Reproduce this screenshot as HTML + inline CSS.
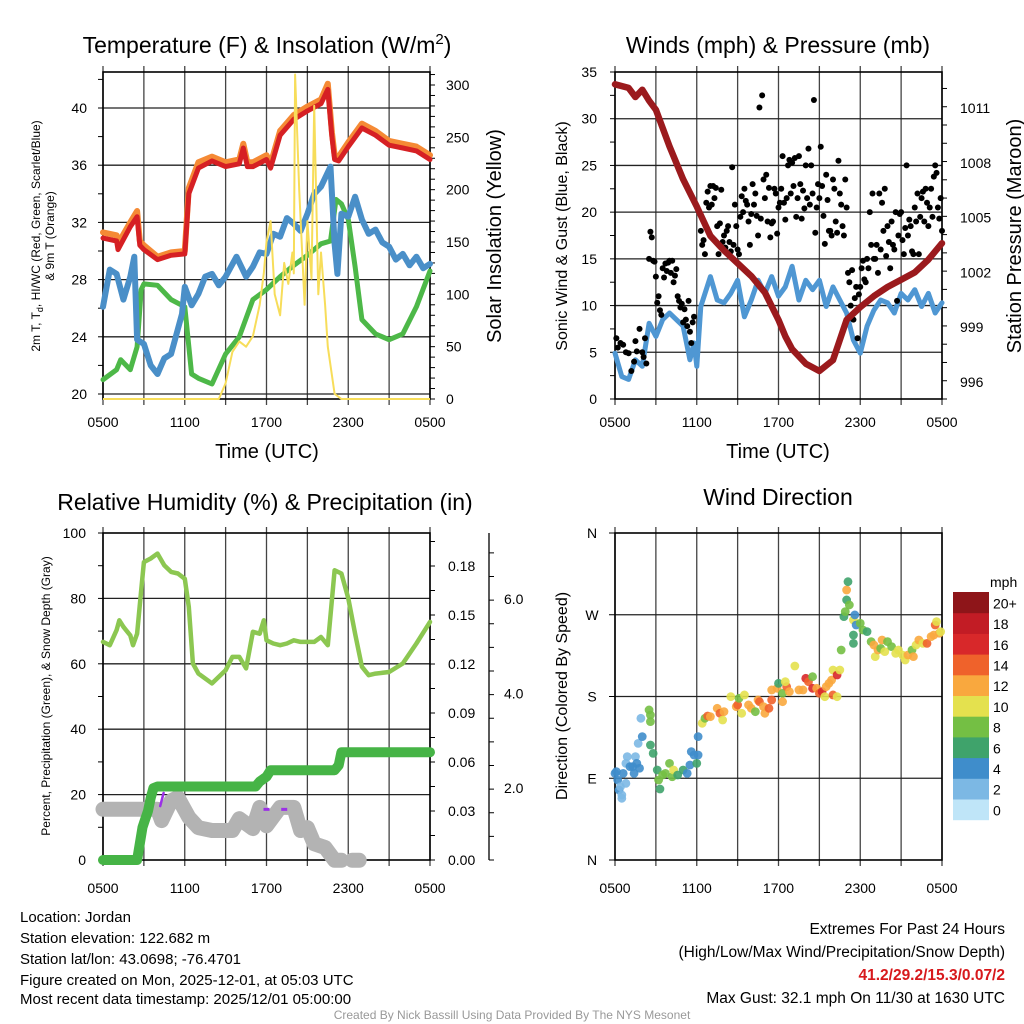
<!DOCTYPE html>
<html><head><meta charset="utf-8">
<style>
html,body{margin:0;padding:0;background:#fff;}
svg{display:block;font-family:"Liberation Sans",Arial,sans-serif;}
</style></head>
<body>
<svg id="chart" width="1024" height="1024" viewBox="0 0 1024 1024" xmlns="http://www.w3.org/2000/svg">
<rect width="1024" height="1024" fill="#fff"/>
<g id="p1"></g>
<g id="p2"></g>
<g id="p3"></g>
<g id="p4"></g>

<text x="267" y="53" font-size="23" text-anchor="middle">Temperature (F) &amp; Insolation (W/m<tspan dy="-9" font-size="15">2</tspan><tspan dy="9">)</tspan></text>
<text x="778" y="53" font-size="23" text-anchor="middle">Winds (mph) &amp; Pressure (mb)</text>
<text x="265" y="510" font-size="23" text-anchor="middle">Relative Humidity (%) &amp; Precipitation (in)</text>
<text x="778" y="505" font-size="23" text-anchor="middle">Wind Direction</text>

<text transform="translate(40,236) rotate(-90)" font-size="12" text-anchor="middle">2m T, T<tspan dy="3" font-size="9">d</tspan><tspan dy="-3">, HI/WC (Red, Green, Scarlet/Blue)</tspan></text>
<text transform="translate(54,236) rotate(-90)" font-size="12" text-anchor="middle">&amp; 9m T (Orange)</text>
<text transform="translate(501,236) rotate(-90)" font-size="20" text-anchor="middle">Solar Insolation (Yellow)</text>
<text x="267" y="458" font-size="20" text-anchor="middle">Time (UTC)</text>

<text transform="translate(567,236) rotate(-90)" font-size="16" text-anchor="middle">Sonic Wind &amp; Gust (Blue, Black)</text>
<text transform="translate(1021,236) rotate(-90)" font-size="20" text-anchor="middle">Station Pressure (Maroon)</text>
<text x="778" y="458" font-size="20" text-anchor="middle">Time (UTC)</text>

<text transform="translate(50,696) rotate(-90)" font-size="12" text-anchor="middle">Percent, Precipitation (Green), &amp; Snow Depth (Gray)</text>
<text transform="translate(567,696) rotate(-90)" font-size="16" text-anchor="middle">Direction (Colored By Speed)</text>

<g font-size="15">
<text x="20" y="922">Location: Jordan</text>
<text x="20" y="943">Station elevation: 122.682 m</text>
<text x="20" y="964">Station lat/lon: 43.0698; -76.4701</text>
<text x="20" y="985">Figure created on Mon, 2025-12-01, at 05:03 UTC</text>
<text x="20" y="1004">Most recent data timestamp: 2025/12/01 05:00:00</text>
<text x="1005" y="934" text-anchor="end" font-size="15.5">Extremes For Past 24 Hours</text>
<text x="1005" y="957" text-anchor="end" font-size="15.5">(High/Low/Max Wind/Precipitation/Snow Depth)</text>
<text x="1005" y="980" text-anchor="end" font-size="15.5" fill="#d7191c" font-weight="bold">41.2/29.2/15.3/0.07/2</text>
<text x="1005" y="1003" text-anchor="end" font-size="15.5">Max Gust: 32.1 mph On 11/30 at 1630 UTC</text>
<text x="512" y="1019" text-anchor="middle" font-size="12" fill="#999">Created By Nick Bassill Using Data Provided By The NYS Mesonet</text>
</g>
</svg>
<script>
// ---------- Panel 1 data ----------
const p1XLabels = ["0500","1100","1700","2300","0500"];
const tempTicks = [20,24,28,32,36,40];
const solarTicks = [0,50,100,150,200,250,300];
const redT = [0,1,1.1,2,2.5,2.7,3,4,5,6,6.3,7,8,9,10,10.3,10.6,11,12,12.3,13,14,15,16,16.5,16.8,17,17.3,18,19,20,21,22,23,24];
const redV = [30.9,30.7,30.1,31.7,32.4,30.4,30.1,29.4,29.7,29.8,34.0,35.8,36.3,35.9,36.1,37.2,35.9,35.9,36.4,35.8,38.1,39.2,39.8,40.3,41.3,38.0,36.4,36.3,37.3,38.6,38.1,37.4,37.2,37.0,36.4];
const orangeV = [31.3,31.1,30.5,32.0,32.8,30.7,30.4,29.6,29.9,30.0,34.4,36.2,36.6,36.2,36.4,37.5,36.2,36.2,36.7,36.1,38.4,39.5,40.1,40.6,41.7,38.3,36.7,36.6,37.6,38.9,38.4,37.7,37.5,37.3,36.7];
const blueT = [0,0.5,1,1.5,2,2.3,2.5,3,3.5,4,4.5,5,5.8,6,6.5,7,7.5,8,8.5,9,9.8,10.5,11,11.5,12,12.5,13,13.5,14,14.5,15,15.5,16,16.7,17,17.2,17.5,18,18.5,19,19.5,20,20.5,21,21.5,22,22.5,23,23.5,24];
const blueV = [26.1,28.7,28.4,26.6,28.2,29.6,23.8,23.5,22.0,21.4,22.5,22.8,25.6,27.5,26.2,27.0,28.2,28.4,27.6,28.2,29.6,28.2,28.9,29.9,29.8,31.2,31.0,32.3,31.9,31.4,32.6,34.0,34.5,35.9,30.5,28.4,32.6,32.4,33.8,32.2,31.2,31.5,30.6,30.3,29.4,29.8,29.0,29.6,28.8,29.1];
const greenT = [0,1,1.3,2,2.5,2.8,3,4,5,6,6.5,7,8,9,10,11,12,13,14,15,16,16.7,17.1,17.5,18,18.5,19,20,21,22,23,24];
const greenV = [21.0,21.7,22.4,21.7,23.3,27.3,27.7,27.6,26.6,26.1,21.4,21.1,20.7,22.8,24.0,26.6,27.3,28.2,29.0,29.7,30.5,30.7,33.6,33.3,32.2,28.9,25.2,24.2,23.8,24.2,26.1,28.6];
const solarT = [0,8.5,9,9.5,10,10.5,11,11.5,11.8,12,12.3,12.6,13,13.3,13.6,13.9,14,14.1,14.4,14.8,15,15.3,15.5,15.8,16,16.3,16.5,17,17.5,24];
const solarV = [0,0,15,45,55,50,60,90,120,150,170,100,80,130,110,140,120,310,200,90,170,115,280,100,140,90,50,5,0,0];

// ---------- Panel 2 data ----------
const windTicks = [0,5,10,15,20,25,30,35];
const presTicks = [996,999,1002,1005,1008,1011];
const presT = [0,1,1.5,2,2.5,3,4,5,6,7,8,9,10,11,12,12.5,13,14,15,16,16.5,17,18,19,20,21,22,23,24];
const presV = [1012.3,1012.1,1011.6,1012.0,1011.4,1010.9,1008.9,1007.1,1005.6,1004.0,1003.2,1002.5,1001.8,1000.9,999.4,998.5,997.8,997.0,996.6,997.2,998.3,999.4,1000.1,1000.7,1001.2,1001.6,1002.0,1002.7,1003.6];
const sonicT = [0,0.5,1,1.5,2,2.5,3,3.5,4,4.5,5,5.5,5.8,6,6.3,7,7.5,8,8.5,9,9.5,10,10.5,11,11.5,12,12.5,13,13.5,14,14.5,15,15.5,16,16.5,17,17.5,18,18.5,19,19.5,20,20.5,21,21.5,22,22.5,23,23.5,24];
const sonicV = [4.9,2.4,2.1,4.2,3.5,8.1,6.7,8.5,9.2,8.5,7.8,4.2,6.0,3.5,9.9,13.1,10.6,10.3,11.3,12.7,8.8,10.6,12.7,11.3,13.1,11.0,12.0,14.2,10.6,12.7,11.7,12.7,9.9,12.0,10.6,9.2,6.3,4.9,7.8,9.5,10.6,10.3,9.2,11.3,10.6,11.7,9.9,11.3,9.2,10.3];
const gustT = [0.1,0.2,0.4,0.6,0.8,1,1.2,1.4,1.5,1.6,1.8,2,2.1,2.2,2.3,2.5,2.6,2.7,2.8,2.9,3,3.1,3.2,3.3,3.4,3.5,3.6,3.7,3.8,3.9,4,4.1,4.2,4.3,4.4,4.5,4.6,4.7,4.8,4.9,5,5.1,5.2,5.3,5.4,5.5,5.6,5.7,5.8,6.3,6.4,6.5,6.6,6.7,6.8,6.9,7,7.1,7.2,7.3,7.4,7.5,7.6,7.7,7.8,7.9,8,8.1,8.2,8.3,8.4,8.5,8.6,8.7,8.8,8.9,9,9.1,9.2,9.3,9.4,9.5,9.6,9.7,9.8,9.9,10,10.1,10.2,10.3,10.4,10.5,10.6,10.7,10.8,10.9,11,11.1,11.2,11.3,11.4,11.5,11.6,11.7,11.8,11.9,12,12.1,12.2,12.3,12.4,12.5,12.6,12.7,12.8,12.9,13,13.1,13.2,13.3,13.4,13.5,13.6,13.7,13.8,13.9,14,14.1,14.2,14.3,14.4,14.5,14.6,14.7,14.8,14.9,15,15.1,15.2,15.3,15.4,15.5,15.6,15.7,15.8,15.9,16,16.1,16.2,16.3,16.4,16.5,16.6,16.7,16.8,16.9,17,17.1,17.2,17.3,17.4,17.5,17.6,17.7,17.8,17.9,18,18.1,18.2,18.3,18.4,18.5,18.6,18.7,18.8,18.9,19,19.1,19.2,19.3,19.4,19.5,19.6,19.7,19.8,19.9,20,20.1,20.2,20.3,20.4,20.5,20.6,20.7,20.8,20.9,21,21.1,21.2,21.3,21.4,21.5,21.6,21.7,21.8,21.9,22,22.1,22.2,22.3,22.4,22.5,22.6,22.7,22.8,22.9,23,23.1,23.2,23.3,23.4,23.5,23.6,23.7,23.8,23.9,24];
const gustV = [6.5,5.5,6,5.8,5,4.9,3,4,6.2,5.1,7.5,5,4.5,6.5,3.8,15,17.9,17.3,14.8,14.7,13.1,10.3,11,9.5,9,14,13,14.5,13.7,14.6,14.8,13.5,14.8,12.5,13.2,13.9,11,10.5,9.8,10.2,8.2,9.6,8.5,7.8,10.5,7.2,6,8.2,8.8,18,16.5,17,15.5,21,22.2,20.5,22.8,20.8,22.8,21.5,22.6,18.5,15.5,18.8,22.4,16.8,17.5,16.2,18,18.5,16.8,15.8,24.8,16.5,20.8,18.5,16,15.5,19.5,21.7,20,22.5,21.2,20.8,19,16.5,19.8,23,20.8,22,19.6,17.5,31.2,19.3,32.5,23.5,21.5,24,19,22.6,17.3,18.8,19,22.5,22,17.7,20.5,21,22.5,26,21,19.2,21.5,25,25.6,22,25.3,22.8,25.8,19.5,21.5,26,23,19.3,22.3,20.4,25,21.5,26.8,20.8,25,22,32,17.8,20.5,23,21.5,27,22.8,19.6,16.6,24,21.3,18,18,17.5,23.5,22.5,19,17.8,25.5,22,20.8,18.5,17.5,23.5,20.5,13.5,12.5,10,13.8,8.5,10.8,12,6.5,11.2,12,14,14.8,12.8,12.5,15,14,20,16.5,22,15,15,16.5,13.5,22,16,21,18,22.5,15.3,18.5,16.8,14,19,16.5,16,20,10.5,17.5,19.8,20,17,15.5,18.3,25,17.5,19.2,18.5,15.8,15.5,20.5,19,22,15.5,19.5,21.5,22.2,19,22.5,21,18.5,20.5,22.5,19.5,23.8,25,24.2,20.5,19.3,21.5,18];

// ---------- Panel 3 data ----------
const pctTicks = [0,20,40,60,80,100];
const precipTicks = [0,0.03,0.06,0.09,0.12,0.15,0.18];
const snowTicks = [2,4,6];
const rhT = [0,0.5,1,1.2,1.5,2,2.2,2.5,2.8,3,3.5,4,4.5,5,5.5,6,6.3,6.6,7,8,9,9.5,10,10.5,11,11.5,11.8,12,12.5,13,13.5,14,14.5,15,15.5,16,16.5,17,17.5,18,18.5,19,19.5,20,21,22,23,24];
const rhV = [66.7,65.7,70.3,73.3,71.3,68.7,65.7,69.2,82.5,91.1,92.2,93.7,90.1,88.1,87.6,86.0,77.4,60.1,57.0,54.0,58.0,62.1,62.1,58.6,69.8,69.2,73.3,67.2,66.2,65.7,66.2,67.2,66.7,66.7,66.7,68.2,65.7,88.6,87.6,80.0,69.2,59.1,56.5,57.0,57.5,60.1,66.2,72.8];
const precipT = [0,2.5,2.7,2.9,3.1,3.3,3.5,3.7,4,11.2,11.5,12,12.3,17,17.3,17.5,24];
const precipV = [0,0,0.01,0.02,0.025,0.03,0.038,0.044,0.045,0.045,0.048,0.051,0.055,0.055,0.058,0.066,0.066];
const snowT = [0,4,4.3,5,5.5,6.3,7,8,9.5,10,11,11.5,12,13,14,14.5,15,15.5,16.3,17,17.5,null,18.3,18.8];
const snowV = [1.55,1.55,1.31,1.73,1.8,1.38,1.16,1.1,1.1,1.35,1.14,1.59,1.2,1.59,1.59,1.1,1.16,0.82,0.74,0.47,0.47,null,0.47,0.47];
const purpleT = [4.2,4.45];
const purpleV = [0.033,0.041];
const purpleDashT = [12.0,13.3];
const purpleDashV = [0.031,0.031];

// ---------- Panel 4 data ----------
const dirLabels = ["N","E","S","W","N"];
const dirTicks = [0,90,180,270,360];
const cbarLabels = ["0","2","4","6","8","10","12","14","16","18","20+"];
const cbarColors = ["#bfe5f8","#7cb8e4","#3f8dcb","#3fa36b","#74bf44","#e4e14e","#f9a83e","#ef622b","#d8282a","#c21c25","#8e1519"];
const wdT = [0,0.1,0.2,0.3,0.4,0.5,0.5,0.8,0.6,0.8,0.9,1.1,1.3,1.4,1.5,1.6,1.8,1.7,2.0,1.9,2.5,2.6,2.6,2.6,2.8,3.1,3.2,3.3,3.5,3.7,4.0,4.2,4.3,4.6,5.0,5.3,5.5,5.6,5.8,6.0,6.1,6.1,6.4,6.6,6.8,7.0,7.5,7.7,7.9,8.0,8.5,8.9,9.0,9.1,9.3,9.5,9.8,10.0,10.3,10.5,10.6,10.9,11.0,11.3,11.5,11.5,11.9,12.0,12.3,12.3,12.6,12.5,12.8,13.2,13.5,13.8,14.0,14.2,14.5,14.5,14.8,15.0,15.2,15.4,15.5,15.7,15.9,16.0,16.3,16.0,16.3,16.5,16.6,16.8,16.9,17.0,17.2,17.0,17.1,17.5,17.6,17.7,17.5,17.5,18.0,18.2,18.5,18.8,19.0,19.1,19.3,19.5,19.6,19.8,20.0,20.3,20.6,20.8,21.1,21.3,21.5,21.8,21.9,22.1,22.3,22.6,22.9,23.2,23.4,23.5,23.6,23.8,23.9];
const wdDir = [95.4,97.3,88.1,77.1,80.7,71.6,67.9,84.4,95.4,106.4,113.8,102.8,102.8,95.4,113.8,106.4,101,128.4,135.8,156,165.2,159.6,152.3,126.6,117.4,99.1,88.1,78.2,93.6,95.4,106.4,91.7,99.1,93.6,99.1,95.4,104.6,119.3,115.6,106.4,115.6,135.8,150.5,156,158.5,157.8,167,161.5,154.1,163.3,179.8,168.8,170.7,178,161.5,181.7,170.7,167,163.3,176.2,174.3,168.8,161.5,167,176.2,187.2,189,194.5,183.5,174.3,190.8,196.3,185.3,213.6,187.2,187.2,200,196.3,201.8,189,189,183.5,185.3,179.8,190.8,194.5,198.2,181.7,179.8,209.2,203.7,209.2,231.2,267.9,273.4,286.3,280.8,297.3,306.4,264.2,269.8,258.7,238.5,247.7,260.6,253.2,251.4,240.4,236.7,223.9,231.2,233,242.2,229.4,240.4,234.9,227.5,231.2,225.7,220.2,225.7,231.2,223.9,236.7,242.2,238.5,238.5,245.9,247.7,258.7,262.4,249.6,251.4];
const wdSpd = [4,4,4,4,1,2,2,2,4,2,2,4,4,4,2,4,3,2,4,2,7,8,8,6,6,6,7,6,7,8,8,8,10,6,6,4,4,4,4,5,3,4,10,8,14,12,12,13,10,12,10,11,13,8,10,10,12,12,8,11,14,12,12,14,14,12,11,6,8,12,14,10,12,10,12,12,15,14,8,15,12,14,16,10,12,12,12,14,10,10,15,10,7,6,8,6,8,12,6,10,4,4,6,6,8,8,6,8,12,10,12,8,12,10,8,8,10,10,10,10,12,8,12,10,12,10,14,12,12,14,10,12,10];

// ---------- helpers ----------
const NS = "http://www.w3.org/2000/svg";
function mk(parent, tag, attrs, text) {
  const e = document.createElementNS(NS, tag);
  for (const k in attrs) e.setAttribute(k, attrs[k]);
  if (text !== undefined) e.textContent = text;
  parent.appendChild(e);
  return e;
}
function linScale(d0, d1, r0, r1) { return v => r0 + (v - d0) * (r1 - r0) / (d1 - d0); }
function pathD(ts, vs, sx, sy) {
  let d = "", pen = false;
  for (let i = 0; i < ts.length; i++) {
    if (ts[i] === null || vs[i] === null) { pen = false; continue; }
    d += (pen ? "L" : "M") + sx(ts[i]).toFixed(1) + "," + sy(vs[i]).toFixed(1);
    pen = true;
  }
  return d;
}
const X0 = 103, X1 = 430, X2 = 615, X3 = 942;
const xA = linScale(0, 24, X0, X1);
const xB = linScale(0, 24, X2, X3);
const hourLabelT = [0, 6, 12, 18, 24];

function frame(g, x0, x1, y0, y1, hLines) {
  for (let h = 0; h <= 24; h += 3) {
    const x = linScale(0, 24, x0, x1)(h);
    const l = mk(g, "line", {x1: x, x2: x, y1: y0 - 6, y2: y1 + 6, stroke: "#444", "stroke-width": 1.3});
    
    
  }
  hLines.forEach(y => {
    const l = mk(g, "line", {x1: x0, x2: x1, y1: y, y2: y, stroke: "#222", "stroke-width": 1.3});
    
    
  });
  const r = mk(g, "rect", {x: x0, y: y0, width: x1 - x0, height: y1 - y0, fill: "none", stroke: "#000", "stroke-width": 1.6});
  
  
}
function xLabels(g, sx, y) {
  hourLabelT.forEach((h, i) => {
    const t = mk(g, "text", {x: sx(h), y: y, "font-size": 14, "text-anchor": "middle"}, p1XLabels[i]);
    
    
  });
}
function minorTicks(g, x, yStart, yEnd, step, dir) {
  for (let y = yStart; y >= yEnd - 0.5; y -= step) {
    const l = mk(g, "line", {x1: x, x2: x + dir * 5, y1: y, y2: y, stroke: "#000", "stroke-width": 1});
    
    
  }
}
function line(g, ts, vs, sx, sy, color, w, name) {
  const p = mk(g, "path", {d: pathD(ts, vs, sx, sy), fill: "none", stroke: color, "stroke-width": w, "stroke-linejoin": "round", "stroke-linecap": "round"});
  
  
  return p;
}

// ---------- Panel 1 ----------
(function () {
  const g = document.getElementById("p1");
  const Y0 = 72, Y1 = 399;
  const yT = linScale(20, 40, 394, 108);
  const yS = linScale(0, 300, 399, 85);
  frame(g, X0, X1, Y0, Y1, tempTicks.map(yT));
  minorTicks(g, X0, yT(20), Y0, yT(20) - yT(22), -1);
  minorTicks(g, X1, yS(0), Y0, yS(0) - yS(10), 1);
  tempTicks.forEach(v => {
    const t = mk(g, "text", {x: 87, y: yT(v) + 5, "font-size": 14, "text-anchor": "end"}, String(v));
    
    
  });
  solarTicks.forEach(v => {
    const t = mk(g, "text", {x: 446, y: yS(v) + 5, "font-size": 14}, String(v));
    
    
  });
  xLabels(g, xA, 427);
  line(g, greenT, greenV, xA, yT, "#4db848", 5, "dewpoint-line");
  line(g, blueT, blueV, xA, yT, "#4a8fc8", 6, "heat-index-windchill-line");
  line(g, redT, orangeV, xA, yT, "#f58a35", 6, "temp-9m-line");
  line(g, redT, redV, xA, yT, "#d62024", 5, "temp-2m-line");
  const cl = mk(g, "clipPath", {id: "c1"});
  mk(cl, "rect", {x: X0, y: Y0, width: X1 - X0, height: Y1 - Y0 + 2});
  const sp = line(g, solarT, solarV, xA, yS, "#f7dd5a", 2, "solar-insolation-line");
  sp.setAttribute("clip-path", "url(#c1)");
})();

// ---------- Panel 2 ----------
(function () {
  const g = document.getElementById("p2");
  const Y0 = 72, Y1 = 399;
  const yW = linScale(0, 35, 399, 72);
  const yP = linScale(996, 1011, 382, 108);
  frame(g, X2, X3, Y0, Y1, windTicks.map(yW).slice(1, 7));
  minorTicks(g, X2, yW(0), Y0, yW(0) - yW(2.5), -1);
  minorTicks(g, X3, Y1 - 0, Y0, yP(996) - yP(997), 1);
  windTicks.forEach(v => {
    const t = mk(g, "text", {x: 597, y: yW(v) + 5, "font-size": 14, "text-anchor": "end"}, String(v));
    
    
  });
  presTicks.forEach(v => {
    const t = mk(g, "text", {x: 960, y: yP(v) + 5, "font-size": 14}, String(v));
    
    
  });
  xLabels(g, xB, 427);
  line(g, sonicT, sonicV, xB, yW, "#4f97d3", 5, "sonic-wind-line");
  gustT.forEach((t, i) => {
    const c = mk(g, "circle", {cx: xB(t), cy: yW(gustV[i]), r: 3, fill: "#000"});
    
    
  });
  line(g, presT, presV, xB, yP, "#9b1a1d", 6.5, "pressure-line");
})();

// ---------- Panel 3 ----------
(function () {
  const g = document.getElementById("p3");
  const Y0 = 533, Y1 = 860;
  const yPct = linScale(0, 100, 860, 533);
  const yPr = linScale(0, 0.18, 860, 566);
  const ySn = linScale(2, 6, 788, 599);
  frame(g, X0, X1, Y0, Y1, pctTicks.map(yPct).slice(1, 5));
  minorTicks(g, X0, yPct(0), Y0, yPct(0) - yPct(10), -1);
  minorTicks(g, X1, yPr(0), Y0, yPr(0) - yPr(0.015), 1);
  const ax = mk(g, "line", {x1: 489, x2: 489, y1: 533, y2: 860, stroke: "#000", "stroke-width": 1.3});
  
  
  minorTicks(g, 489, 860, 540, ySn(2) - ySn(2.5), 1);
  pctTicks.forEach(v => {
    const t = mk(g, "text", {x: 86, y: yPct(v) + 5, "font-size": 14, "text-anchor": "end"}, String(v));
    
    
  });
  precipTicks.forEach(v => {
    const t = mk(g, "text", {x: 448, y: yPr(v) + 5, "font-size": 14}, v.toFixed(2));
    
    
  });
  snowTicks.forEach(v => {
    const t = mk(g, "text", {x: 504, y: ySn(v) + 5, "font-size": 14}, v.toFixed(1));
    
    
  });
  xLabels(g, xA, 893);
  line(g, snowT, snowV, xA, ySn, "#b3b3b3", 15, "snow-depth-line");
  line(g, rhT, rhV, xA, yPct, "#8cc751", 4.5, "relative-humidity-line");
  line(g, precipT, precipV, xA, yPr, "#46b446", 10, "precipitation-line");
  line(g, purpleT, purpleV, xA, yPr, "#9b30e6", 2.5, "precip-rate-line");
  purpleDashT.forEach((t, i) => {
    const l = mk(g, "line", {x1: xA(t) - 3, x2: xA(t) + 3, y1: yPr(purpleDashV[i]), y2: yPr(purpleDashV[i]), stroke: "#9b30e6", "stroke-width": 3});
    
    
  });
})();

// ---------- Panel 4 ----------
(function () {
  const g = document.getElementById("p4");
  const Y0 = 533, Y1 = 860;
  const yD = linScale(0, 360, 860, 533);
  frame(g, X2, X3, Y0, Y1, [90, 180, 270].map(yD));
  dirTicks.forEach((v, i) => {
    const t = mk(g, "text", {x: 592, y: yD(v) + 5, "font-size": 14, "text-anchor": "middle"}, dirLabels[i]);
    
    
    const l = mk(g, "line", {x1: X2 - 6, x2: X2, y1: yD(v), y2: yD(v), stroke: "#000", "stroke-width": 1});
    
    
  });
  xLabels(g, xB, 893);
  wdT.forEach((t, i) => {
    const idx = Math.max(0, Math.min(10, Math.round(wdSpd[i] / 2)));
    const c = mk(g, "circle", {cx: xB(t), cy: yD(wdDir[i]), r: 4.4, fill: cbarColors[idx], "fill-opacity": 0.9});
    
    
  });
  const cb = mk(g, "g", {});
  
  
  const cbTop = 592, cbH = 20.7;
  cbarColors.forEach((col, i) => {
    const y = cbTop + (10 - i) * cbH;
    const r = mk(cb, "rect", {x: 953, y: y, width: 36, height: cbH + 0.5, fill: col});
    
    
    const t = mk(cb, "text", {x: 993, y: y + cbH / 2 + 6, "font-size": 14}, cbarLabels[i]);
    
    
  });
  const u = mk(cb, "text", {x: 990, y: 587, "font-size": 14}, "mph");
  
  
})();
</script>
</body></html>
